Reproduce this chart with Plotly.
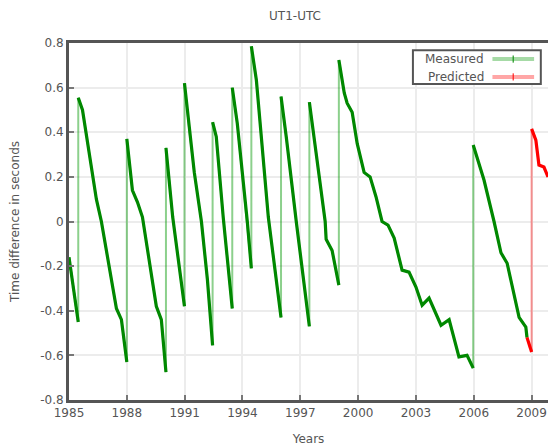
import plotly.graph_objects as go

# Measured UT1-UTC (years, seconds); a repeated year marks a leap-second jump
measured_years = [
    1985.0, 1985.48, 1985.48, 1985.70, 1986.42, 1986.68, 1987.46, 1987.72, 1988.0,
    1988.0, 1988.29, 1988.55, 1988.81, 1989.53, 1989.79, 1990.03,
    1990.03, 1990.38, 1990.99,
    1990.99, 1991.24, 1991.50, 1991.87, 1992.18, 1992.45,
    1992.45, 1992.64, 1993.0, 1993.47,
    1993.47, 1993.73, 1994.25, 1994.46,
    1994.46, 1994.72, 1995.34, 1996.0,
    1996.0, 1996.27, 1996.79, 1997.47,
    1997.47, 1998.29, 1998.34, 1998.65, 1999.0,
    1999.0, 1999.28, 1999.43, 1999.69, 1999.95, 2000.31, 2000.62, 2000.93,
    2001.24, 2001.55, 2001.87, 2002.28, 2002.64, 2003.0, 2003.32, 2003.68,
    2004.30, 2004.72, 2005.23, 2005.65, 2005.97,
    2005.97, 2006.17, 2006.53, 2007.05, 2007.41, 2007.73, 2008.35, 2008.70, 2008.76,
]
measured_values = [
    -0.16, -0.45, 0.555, 0.50, 0.10, 0.0, -0.39, -0.44, -0.63,
    0.37, 0.14, 0.087, 0.02, -0.38, -0.44, -0.675,
    0.33, 0.02, -0.38,
    0.62, 0.41, 0.22, 0.0, -0.26, -0.555,
    0.445, 0.38, 0.02, -0.39,
    0.60, 0.44, 0.0, -0.21,
    0.785, 0.634, 0.02, -0.43,
    0.56, 0.38, 0.0, -0.47,
    0.535, 0.0, -0.08, -0.13, -0.285,
    0.724, 0.576, 0.53, 0.49, 0.35, 0.22, 0.20, 0.11,
    0.0, -0.016, -0.074, -0.218, -0.227, -0.294, -0.375, -0.343,
    -0.465, -0.44, -0.607, -0.60, -0.657,
    0.343, 0.29, 0.186, 0.0, -0.14, -0.187, -0.43, -0.473, -0.52,
]

predicted_years = [2008.76, 2009.0, 2009.0, 2009.22, 2009.38, 2009.64, 2009.85]
predicted_values = [-0.52, -0.585, 0.415, 0.365, 0.253, 0.244, 0.20]

x_ticks = [1985, 1988, 1991, 1994, 1997, 2000, 2003, 2006, 2009]
y_ticks = [-0.8, -0.6, -0.4, -0.2, 0, 0.2, 0.4, 0.6, 0.8]


def split_at_jumps(xs, ys):
    """Insert gaps where the year repeats (vertical jump)."""
    ox, oy = [xs[0]], [ys[0]]
    for i in range(1, len(xs)):
        if xs[i] == xs[i - 1]:
            ox.append(None)
            oy.append(None)
        ox.append(xs[i])
        oy.append(ys[i])
    return ox, oy


GREEN = "#008800"
LGREEN = "rgba(0,150,0,0.45)"
RED = "#ff0000"
LRED = "rgba(255,0,0,0.4)"

fig = go.Figure()
fig.add_trace(go.Scatter(x=measured_years, y=measured_values, mode="lines",
                         line=dict(color=LGREEN, width=2), name="Measured",
                         hoverinfo="skip", showlegend=False))
fig.add_trace(go.Scatter(x=predicted_years, y=predicted_values, mode="lines",
                         line=dict(color=LRED, width=2), name="Predicted",
                         hoverinfo="skip", showlegend=False))
mx, my = split_at_jumps(measured_years, measured_values)
fig.add_trace(go.Scatter(x=mx, y=my, mode="lines", connectgaps=False,
                         line=dict(color=GREEN, width=3.2), showlegend=False))
px_, py_ = split_at_jumps(predicted_years, predicted_values)
fig.add_trace(go.Scatter(x=px_, y=py_, mode="lines", connectgaps=False,
                         line=dict(color=RED, width=3.2), showlegend=False))

TXT = "#555555"
FONT = "DejaVu Sans, Liberation Sans, sans-serif"

fig.update_layout(
    width=548, height=448,
    margin=dict(l=69, r=0, t=43, b=48),
    paper_bgcolor="white", plot_bgcolor="white",
    font=dict(family=FONT, size=12, color=TXT),
    showlegend=False,
    xaxis=dict(range=[1985, 2009.85], tickvals=x_ticks, ticktext=[str(t) for t in x_ticks],
               automargin=False,
               showgrid=True, gridcolor="#ececec", gridwidth=2,
               showline=True, linecolor="#555555", linewidth=3, mirror=True,
               ticks="inside", ticklen=5, tickcolor="#777777", tickwidth=1.5,
               zeroline=False, tickfont=dict(size=12, color=TXT),
               title=dict(text="Years", font=dict(size=12, color=TXT), standoff=16)),
    yaxis=dict(range=[-0.8, 0.8], tickvals=y_ticks,
               ticktext=["-0.8", "-0.6", "-0.4", "-0.2", "0", "0.2", "0.4", "0.6", "0.8"],
               automargin=False,
               showgrid=True, gridcolor="#ececec", gridwidth=2,
               showline=True, linecolor="#555555", linewidth=3, mirror=False,
               ticks="inside", ticklen=5, tickcolor="#777777", tickwidth=1.5,
               zeroline=False, tickfont=dict(size=12, color=TXT),
               title=dict(text="Time difference in seconds", font=dict(size=12, color=TXT), standoff=18)),
    title=dict(text="UT1-UTC", x=295 / 548, xanchor="center",
               y=1 - 16 / 448, yanchor="middle", yref="container",
               font=dict(size=12, color=TXT)),
)

# Manual legend (text on the left, sample on the right, like gnuplot)
shapes = [
    dict(type="rect", xref="paper", yref="paper", x0=0.718, x1=0.985, y0=0.885, y1=0.980,
         line=dict(color="#555555", width=2), fillcolor="white"),
    dict(type="line", xref="paper", yref="paper", x0=0.884, x1=0.971, y0=0.955, y1=0.955,
         line=dict(color="rgba(0,150,0,0.35)", width=4)),
    dict(type="line", xref="paper", yref="paper", x0=0.884, x1=0.971, y0=0.905, y1=0.905,
         line=dict(color="rgba(255,0,0,0.35)", width=4)),
    dict(type="line", xref="paper", yref="paper", x0=0.9275, x1=0.9275, y0=0.945, y1=0.965,
         line=dict(color="rgba(0,136,0,0.7)", width=1.5)),
    dict(type="line", xref="paper", yref="paper", x0=0.9275, x1=0.9275, y0=0.895, y1=0.915,
         line=dict(color="rgba(255,0,0,0.7)", width=1.5)),
]
fig.update_layout(shapes=shapes)
fig.add_annotation(xref="paper", yref="paper", x=0.87, y=0.955, text="Measured",
                   showarrow=False, xanchor="right", yanchor="middle",
                   font=dict(size=12, color=TXT))
fig.add_annotation(xref="paper", yref="paper", x=0.87, y=0.905, text="Predicted",
                   showarrow=False, xanchor="right", yanchor="middle",
                   font=dict(size=12, color=TXT))

fig.write_html("out.html", config={"displayModeBar": False},
               post_script="document.body.style.margin='0';document.body.style.overflow='hidden';")
